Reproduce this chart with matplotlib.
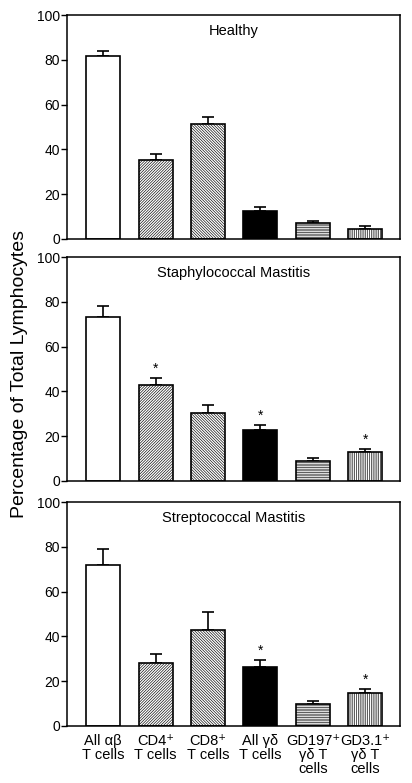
import matplotlib
matplotlib.use("Agg")
import matplotlib.pyplot as plt
import numpy as np

plt.rcParams["font.family"] = ["Liberation Sans", "DejaVu Sans"]
plt.rcParams["hatch.linewidth"] = 0.45

categories = ["All αβ\nT cells", "CD4⁺\nT cells", "CD8⁺\nT cells",
              "All γδ\nT cells", "GD197⁺\nγδ T\ncells", "GD3.1⁺\nγδ T\ncells"]

titles = ["Healthy", "Staphylococcal Mastitis", "Streptococcal Mastitis"]

healthy_mean = [81.6, 35.2, 51.3, 12.6, 7.3, 4.6]
healthy_err = [2.2, 2.7, 3.0, 1.6, 0.9, 1.2]
healthy_sig = [False, False, False, False, False, False]

staph_mean = [73.3, 42.9, 30.5, 22.8, 9.0, 13.1]
staph_err = [4.8, 3.3, 3.4, 2.3, 1.1, 1.3]
staph_sig = [False, True, False, True, False, True]

strep_mean = [71.8, 28.0, 42.9, 26.4, 9.8, 14.9]
strep_err = [7.2, 4.2, 7.8, 3.1, 1.4, 1.8]
strep_sig = [False, False, False, True, False, True]

panels = [
    (healthy_mean, healthy_err, healthy_sig),
    (staph_mean, staph_err, staph_sig),
    (strep_mean, strep_err, strep_sig),
]

colors = ["white", "white", "white", "black", "white", "white"]
hatches = [None, "/" * 12, "\\" * 12, None, "-" * 10, "|" * 9]

fig = plt.figure(figsize=(4.12, 7.83), dpi=100)
left, width, height = 0.1626, 0.808, 0.286
bottoms = [0.6948, 0.3857, 0.0728]

x = np.arange(len(categories))
for i, (mean, err, sig) in enumerate(panels):
    ax = fig.add_axes([left, bottoms[i], width, height])
    for j in range(len(x)):
        ax.bar(x[j], mean[j], width=0.65, color=colors[j], edgecolor="black",
               linewidth=1.2, hatch=hatches[j], zorder=2)
    ax.errorbar(x, mean, yerr=[np.zeros(len(x)), err], fmt="none", ecolor="black",
                elinewidth=1.2, capsize=4.5, capthick=1.2, zorder=1)
    for j in range(len(x)):
        if sig[j]:
            ax.text(x[j], mean[j] + err[j] + 1.0, "*", ha="center", va="bottom",
                    fontsize=10)
    ax.set_xlim(-0.69, 5.66)
    ax.set_ylim(0, 100)
    ax.set_yticks([0, 20, 40, 60, 80, 100])
    ax.tick_params(axis="y", direction="out", length=4, width=1, labelsize=10, pad=1)
    ax.tick_params(axis="x", length=0)
    for s in ax.spines.values():
        s.set_linewidth(1.1)
    ax.text(0.5, 0.93, titles[i], transform=ax.transAxes, ha="center", va="center",
            fontsize=10.5)
    if i == 2:
        ax.set_xticks(x)
        ax.set_xticklabels(categories, fontsize=10.5, linespacing=1.0)
        ax.tick_params(axis="x", pad=6)
    else:
        ax.set_xticks([])

fig.text(0.047, 0.522, "Percentage of Total Lymphocytes", rotation=90,
         ha="center", va="center", fontsize=14)

fig.savefig("out.png", dpi=100)
